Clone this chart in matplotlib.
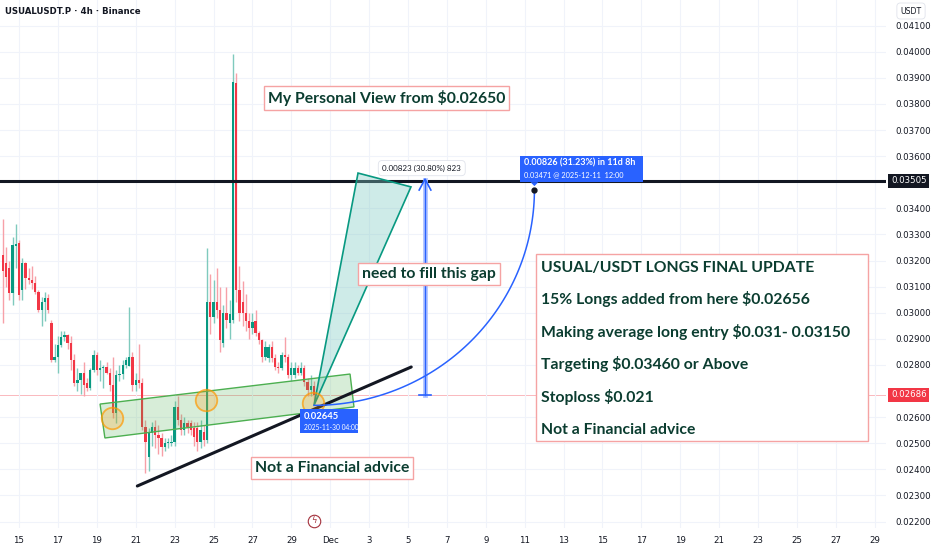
import numpy as np
import pandas as pd
import matplotlib
matplotlib.use("Agg")
import matplotlib.pyplot as plt
import matplotlib.dates as mdates
from matplotlib.patches import Polygon, Rectangle

# 4h candles, USUALUSDT.P
opens = [0.03220, 0.03190, 0.03170, 0.03075, 0.03255, 0.03267, 0.03087, 0.03190, 0.03133, 0.03125,
         0.03114, 0.03080, 0.03010, 0.03040, 0.03056, 0.02960, 0.02819, 0.02830, 0.02876, 0.02907,
         0.02914, 0.02884, 0.02819, 0.02730, 0.02742, 0.02770, 0.02730, 0.02712, 0.02780, 0.02838,
         0.02780, 0.02788, 0.02792, 0.02770, 0.02723, 0.02615, 0.02761, 0.02765, 0.02800, 0.02796,
         0.02830, 0.02723, 0.02742, 0.02730, 0.02562, 0.02446, 0.02539, 0.02562, 0.02531, 0.02520,
         0.02485, 0.02500, 0.02500, 0.02504, 0.02640, 0.02589, 0.02550, 0.02577, 0.02577, 0.02560,
         0.02558, 0.02504, 0.02543, 0.02512, 0.03040, 0.02984, 0.03040, 0.03010, 0.02883, 0.03000,
         0.02960, 0.02972, 0.03880, 0.03087, 0.03040, 0.03000, 0.02970, 0.02941, 0.02970, 0.02922,
         0.02895, 0.02830, 0.02826, 0.02868, 0.02826, 0.02792, 0.02790, 0.02838, 0.02830, 0.02761,
         0.02760, 0.02788, 0.02770, 0.02788, 0.02734, 0.02704, 0.02720]
highs = [0.03360, 0.03250, 0.03200, 0.03290, 0.03340, 0.03280, 0.03210, 0.03195, 0.03170, 0.03180,
         0.03140, 0.03087, 0.03060, 0.03080, 0.03070, 0.02972, 0.02880, 0.02910, 0.02930, 0.02930,
         0.02920, 0.02910, 0.02840, 0.02790, 0.02770, 0.02810, 0.02750, 0.02790, 0.02857, 0.02850,
         0.02820, 0.02800, 0.02810, 0.02790, 0.02830, 0.02780, 0.02800, 0.02820, 0.02830, 0.03020,
         0.02850, 0.02770, 0.02880, 0.02750, 0.02590, 0.02560, 0.02580, 0.02590, 0.02570, 0.02540,
         0.02520, 0.02520, 0.02530, 0.02660, 0.02680, 0.02610, 0.02600, 0.02590, 0.02590, 0.02580,
         0.02580, 0.02590, 0.02570, 0.03248, 0.03150, 0.03125, 0.03170, 0.03100, 0.03030, 0.03100,
         0.03050, 0.03990, 0.03920, 0.03180, 0.03120, 0.03070, 0.03000, 0.03000, 0.03010, 0.02930,
         0.02900, 0.02890, 0.02880, 0.02890, 0.02840, 0.02810, 0.02850, 0.02907, 0.02840, 0.02810,
         0.02810, 0.02800, 0.02810, 0.02800, 0.02750, 0.02760, 0.02740]
lows = [0.02960, 0.03100, 0.03050, 0.03030, 0.03170, 0.03050, 0.03050, 0.03090, 0.03110, 0.03090,
        0.03072, 0.03002, 0.02950, 0.02970, 0.03000, 0.02810, 0.02810, 0.02770, 0.02870, 0.02890,
        0.02860, 0.02780, 0.02720, 0.02700, 0.02690, 0.02680, 0.02700, 0.02704, 0.02773, 0.02760,
        0.02740, 0.02710, 0.02765, 0.02700, 0.02596, 0.02577, 0.02740, 0.02745, 0.02790, 0.02796,
        0.02700, 0.02700, 0.02710, 0.02550, 0.02385, 0.02393, 0.02490, 0.02480, 0.02460, 0.02450,
        0.02470, 0.02480, 0.02490, 0.02490, 0.02570, 0.02530, 0.02530, 0.02540, 0.02530, 0.02490,
        0.02470, 0.02480, 0.02490, 0.02500, 0.02920, 0.02960, 0.02980, 0.02850, 0.02870, 0.02940,
        0.02900, 0.02960, 0.03040, 0.02970, 0.02950, 0.02930, 0.02900, 0.02920, 0.02910, 0.02880,
        0.02810, 0.02820, 0.02810, 0.02810, 0.02780, 0.02770, 0.02780, 0.02810, 0.02750, 0.02740,
        0.02750, 0.02760, 0.02760, 0.02720, 0.02680, 0.02680, 0.02645]
closes = [0.03160, 0.03137, 0.03075, 0.03260, 0.03262, 0.03068, 0.03190, 0.03133, 0.03125, 0.03114,
          0.03080, 0.03010, 0.03040, 0.03056, 0.03010, 0.02819, 0.02830, 0.02876, 0.02907, 0.02914,
          0.02884, 0.02819, 0.02730, 0.02742, 0.02770, 0.02723, 0.02712, 0.02780, 0.02838, 0.02780,
          0.02788, 0.02792, 0.02770, 0.02723, 0.02615, 0.02761, 0.02765, 0.02800, 0.02819, 0.02830,
          0.02723, 0.02742, 0.02730, 0.02562, 0.02504, 0.02539, 0.02562, 0.02531, 0.02520, 0.02485,
          0.02500, 0.02504, 0.02504, 0.02640, 0.02589, 0.02550, 0.02577, 0.02562, 0.02550, 0.02524,
          0.02504, 0.02550, 0.02512, 0.03040, 0.02984, 0.03040, 0.03010, 0.02895, 0.03000, 0.02972,
          0.02995, 0.03884, 0.03087, 0.03000, 0.03000, 0.02970, 0.02941, 0.02964, 0.02922, 0.02895,
          0.02830, 0.02868, 0.02868, 0.02826, 0.02792, 0.02790, 0.02838, 0.02830, 0.02761, 0.02788,
          0.02788, 0.02770, 0.02788, 0.02734, 0.02704, 0.02720, 0.02686]

times = pd.date_range("2025-11-14 04:00", periods=len(opens), freq="4h")

resistance = 0.03505
last_price = 0.02686
y_ticks = [0.041, 0.040, 0.039, 0.038, 0.037, 0.036, 0.034, 0.033, 0.032, 0.031,
           0.030, 0.029, 0.028, 0.026, 0.025, 0.024, 0.023, 0.022]

box_lines = ["USUAL/USDT LONGS FINAL UPDATE",
             "15% Longs added from here $0.02656",
             "Making average long entry $0.031- 0.03150",
             "Targeting $0.03460 or Above",
             "Stoploss $0.021",
             "Not a Financial advice"]

GREEN = "#089981"
RED = "#f23645"
BLUE = "#2962ff"
TXT = "#0b3d30"
PINK = "#f5a3a3"
LBL = ["Lato", "DejaVu Sans"]


def t(s):
    return mdates.date2num(pd.Timestamp(s))


fig = plt.figure(figsize=(9.32, 5.5), dpi=100)
ax = fig.add_axes([0, 22 / 550, 886 / 932, 528 / 550])
ax.set_facecolor("white")

xs = mdates.date2num(times)
o = np.array(opens)
c = np.array(closes)
up = c >= o
cols = np.where(up, GREEN, RED)
wick_cols = np.where(up, "#7fcabd", "#f7a0a8")
ax.vlines(xs, lows, highs, colors=wick_cols, linewidth=1.0, zorder=2)
ax.bar(xs, np.maximum(np.abs(c - o), 0.00003), bottom=np.minimum(o, c), width=0.12,
       color=cols, linewidth=0, zorder=3)

# grid
ax.set_ylim(0.021751, 0.041981)
ax.set_xlim(t("2025-11-14 00:33"), t("2025-12-29 13:50"))
tick_days = pd.date_range("2025-11-15", "2025-12-29", freq="2D")
ax.set_xticks(mdates.date2num(tick_days))
ax.set_xticklabels(["Dec" if d.day == 1 else str(d.day) for d in tick_days])
ax.set_yticks(y_ticks)
ax.set_yticklabels(["%.5f" % v for v in y_ticks])
ax.yaxis.tick_right()
ax.tick_params(axis="both", length=0, labelsize=6.2, colors="#131722")
ax.tick_params(axis="y", pad=7)
ax.tick_params(axis="x", pad=6)
ax.grid(True, color="#f0f3fa", linewidth=0.8, zorder=0)
for s in ax.spines.values():
    s.set_visible(False)

# last price line
ax.axhline(last_price, color=RED, linewidth=0.7, alpha=0.35, zorder=1)

# horizontal resistance
ax.axhline(resistance, color="#131722", linewidth=2.2, zorder=4)

# channel
chan = Polygon([(t("2025-11-19 04:00"), 0.02650), (t("2025-12-02 00:30"), 0.02765),
                (t("2025-12-02 05:20"), 0.02639), (t("2025-11-19 10:00"), 0.02520)],
               closed=True, facecolor="#4caf50", alpha=0.22, edgecolor="none", zorder=4)
ax.add_patch(chan)
chan_edge = Polygon(chan.get_xy(), closed=True, fill=False, edgecolor="#4caf50",
                    linewidth=1.0, zorder=4)
ax.add_patch(chan_edge)

# trend line
ax.plot([t("2025-11-21 02:00"), t("2025-12-05 04:00")], [0.02336, 0.02792],
        color="#131722", linewidth=2.2, solid_capstyle="round", zorder=5)

# orange circles
for cx, cy in [("2025-11-19 18:40", 0.02597), ("2025-11-24 14:40", 0.02666),
               ("2025-11-30 03:00", 0.02654)]:
    ax.plot(t(cx), cy, "o", markersize=15.5, markerfacecolor=(1.0, 0.62, 0.1, 0.25),
            markeredgecolor=(1.0, 0.6, 0.0, 0.7), markeredgewidth=1.3, zorder=6)

# fan triangle
tri = Polygon([(t("2025-11-30 04:00"), 0.02645), (t("2025-12-02 10:20"), 0.03535),
               (t("2025-12-05 03:40"), 0.03482)], closed=True, facecolor="#80cbc4",
              alpha=0.38, edgecolor="none", zorder=5)
ax.add_patch(tri)
ax.add_patch(Polygon(tri.get_xy(), closed=True, fill=False, edgecolor=GREEN,
                     linewidth=1.2, zorder=5))

# price range arrow
rx = t("2025-12-05 21:00")
ax.plot([rx, rx], [last_price, 0.03509], color="#b3c5ff", linewidth=3.5, zorder=5)
ax.plot([rx, rx], [last_price, 0.03509], color=BLUE, linewidth=1.0, zorder=5)
ax.plot([rx - 0.31, rx + 0.31], [last_price, last_price], color=BLUE, linewidth=1.2, zorder=5)
ax.plot([rx - 0.3, rx, rx + 0.3], [0.03470, 0.03512, 0.03470], color=BLUE,
        linewidth=1.2, zorder=5)
ax.text(t("2025-12-05 17:00"), 0.03554, "0.00823 (30.80%) 823", fontsize=5.8,
        family=LBL, color="#131722", ha="center", va="center", zorder=8,
        bbox=dict(boxstyle="round,pad=0.5", fc="white", ec="#e0e3eb", lw=0.6))

# forecast curve
x0, y0 = t("2025-11-30 04:00"), 0.02645
x1, y1 = t("2025-12-11 12:00"), 0.03471
ang = np.linspace(0, np.pi / 2, 80)
ax.plot(x0 + (x1 - x0) * np.sin(ang), y1 - (y1 - y0) * np.cos(ang), color=BLUE,
        linewidth=1.1, zorder=6)
ax.plot(x1, y1, "o", color="#131722", markersize=3.5, zorder=7)

# forecast target label
ax.add_patch(Rectangle((t("2025-12-10 18:00"), 0.03500), t("2025-12-17 02:00") - t("2025-12-10 18:00"),
                       0.0010, facecolor=BLUE, edgecolor="none", zorder=8))
ax.add_patch(Polygon([(x1 - 0.2, 0.03500), (x1 + 0.2, 0.03500), (x1, 0.03485)],
                     closed=True, facecolor=BLUE, edgecolor="none", zorder=8))
ax.text(t("2025-12-10 23:00"), 0.03572, "0.00826 (31.23%) in 11d 8h", fontsize=6.5,
        family=LBL, fontweight="bold", color="white", ha="left", va="center", zorder=9)
ax.text(t("2025-12-10 23:00"), 0.03527, "0.03471 @ 2025-12-11  12:00", fontsize=5.3,
        family=LBL, color="white", ha="left", va="center", zorder=9)

# forecast source label
ax.add_patch(Rectangle((t("2025-11-29 10:50"), 0.02539), t("2025-12-02 10:00") - t("2025-11-29 10:50"),
                       0.00092, facecolor=BLUE, edgecolor="none", zorder=8))
ax.text(t("2025-11-29 15:40"), 0.02603, "0.02645", fontsize=6.8, family=LBL,
        fontweight="bold", color="white", ha="left", va="center", zorder=9)
ax.text(t("2025-11-29 15:40"), 0.02560, "2025-11-30 04:00", fontsize=4.8, family=LBL,
        color="white", ha="left", va="center", zorder=9)

# annotation text boxes
note_font = dict(family=LBL, fontsize=11.3, fontweight="bold", color=TXT, zorder=9)
box = dict(boxstyle="square,pad=0.25", fc="white", ec=PINK, lw=1.0)
ax.text(t("2025-11-27 19:00"), 0.03823, "My Personal View from $0.02650", ha="left",
        va="center", bbox=box, **note_font)
ax.text(t("2025-12-02 15:30"), 0.03148, "need to fill this gap", ha="left",
        va="center", bbox=box, **note_font)
ax.text(t("2025-11-27 03:00"), 0.02405, "Not a Financial advice", ha="left",
        va="center", bbox=box, **note_font)

ax.add_patch(Rectangle((t("2025-12-11 14:00"), 0.02509), t("2025-12-28 15:30") - t("2025-12-11 14:00"),
                       0.00717, facecolor="white", edgecolor=PINK, linewidth=1.0, zorder=8))
line_y = [0.03171, 0.03052, 0.02926, 0.02803, 0.02677, 0.02550]
for txt, ly in zip(box_lines, line_y):
    ax.text(t("2025-12-11 20:00"), ly, txt, ha="left", va="center", **note_font)

# price axis labels
ax.text(1.0056, resistance, "0.03505", transform=ax.get_yaxis_transform(), fontsize=6.2,
        color="white", ha="left", va="center", clip_on=False, zorder=10,
        bbox=dict(boxstyle="square,pad=0.3", fc="#131722", ec="none"))
ax.text(1.0056, last_price, "0.02686", transform=ax.get_yaxis_transform(), fontsize=6.2,
        color="white", ha="left", va="center", clip_on=False, zorder=10,
        bbox=dict(boxstyle="square,pad=0.3", fc=RED, ec="none"))
fig.text(911 / 932, 1 - 11 / 550, "USDT", fontsize=5.6, color="#131722", ha="center",
         va="center", bbox=dict(boxstyle="round,pad=0.45", fc="white", ec="#e0e3eb", lw=0.6))

# header
fig.text(5 / 932, 1 - 11 / 550, "USUALUSDT.P · 4h · Binance", fontsize=6.2,
         color="#131722", ha="left", va="center", fontweight="bold")

# lightning badge
ax.plot(t("2025-11-30 04:00"), 0.02202, "o", markersize=9, markerfacecolor="white",
        markeredgecolor="#a3303b", markeredgewidth=0.8, zorder=9, clip_on=False)
ax.text(t("2025-11-30 04:00"), 0.02202, "ϟ", fontsize=6, color="#a3303b", ha="center",
        va="center", zorder=10, clip_on=False)

fig.savefig("out.png", dpi=100)
